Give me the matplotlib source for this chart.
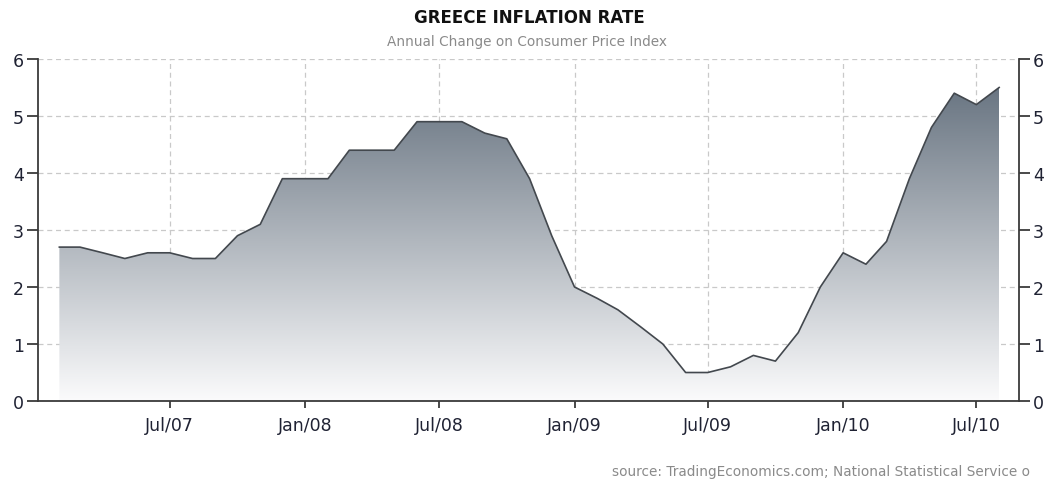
import numpy as np
import pandas as pd
import matplotlib
matplotlib.use('Agg')
import matplotlib.pyplot as plt
from matplotlib.colors import LinearSegmentedColormap

# monthly observations, Feb 2007 .. Aug 2010
months = pd.date_range('2007-02-01', '2010-08-01', freq='MS')
inflation = [2.7, 2.7, 2.6, 2.5, 2.6, 2.6, 2.5, 2.5, 2.9, 3.1, 3.9,
             3.9, 3.9, 4.4, 4.4, 4.4, 4.9, 4.9, 4.9, 4.7, 4.6, 3.9, 2.9,
             2.0, 1.8, 1.6, 1.3, 1.0, 0.5, 0.5, 0.6, 0.8, 0.7, 1.2, 2.0,
             2.6, 2.4, 2.8, 3.9, 4.8, 5.4, 5.2, 5.5]
tick_dates = pd.to_datetime(['2007-07-01', '2008-01-01', '2008-07-01', '2009-01-01',
                             '2009-07-01', '2010-01-01', '2010-07-01'])
tick_labels = ['Jul/07', 'Jan/08', 'Jul/08', 'Jan/09', 'Jul/09', 'Jan/10', 'Jul/10']
y_ticks = [0, 1, 2, 3, 4, 5, 6]

fig = plt.figure(figsize=(10.5, 4.85), dpi=100)
ax = fig.add_axes([0.0362, 0.1711, 0.9343, 0.7052])

x = matplotlib.dates.date2num(months)
y = np.array(inflation)

# gradient fill under the line
cmap = LinearSegmentedColormap.from_list('slate', ['#fbfbfc', '#5c6977'])
grad = np.linspace(0, 1, 256).reshape(-1, 1)
img = ax.imshow(grad, cmap=cmap, aspect='auto', origin='lower',
                extent=[x[0], x[-1], 0, 6], zorder=1)
poly = ax.fill_between(x, y, 0, color='none', zorder=1)
clip = matplotlib.patches.PathPatch(poly.get_paths()[0], transform=ax.transData,
                                    facecolor='none', edgecolor='none')
ax.add_patch(clip)
img.set_clip_path(clip)

ax.plot(x, y, color='#43484e', linewidth=1.2, zorder=3)

ax.set_xlim(x[0] - 29, x[-1] + 27)
ax.set_ylim(0, 6)
ax.set_xticks(matplotlib.dates.date2num(tick_dates))
ax.set_xticklabels(tick_labels)
ax.set_yticks(y_ticks)

ax.grid(True, color='#c9c9c9', linestyle=(0, (4, 3)), linewidth=0.9, zorder=0)
ax.set_axisbelow(True)

ax.spines['top'].set_visible(False)
for side in ['left', 'right', 'bottom']:
    ax.spines[side].set_color('#3a3a3a')
    ax.spines[side].set_linewidth(1.3)

ax.tick_params(axis='y', which='both', left=True, right=True, labelleft=True, labelright=True,
               direction='out', length=8, width=1.3, color='#3a3a3a',
               labelsize=12.5, labelcolor='#1f2233', pad=2)
ax.tick_params(axis='x', direction='out', length=5, width=1.3, color='#3a3a3a',
               labelsize=12.5, labelcolor='#1f2233', pad=6)

fig.text(0.5045, 0.962, 'GREECE INFLATION RATE', ha='center', va='center',
         fontsize=12, fontweight='bold', color='#111111')
fig.text(0.5015, 0.913, 'Annual Change on Consumer Price Index', ha='center', va='center',
         fontsize=9.8, color='#8a8a8a')
fig.text(0.981, 0.027, 'source: TradingEconomics.com; National Statistical Service o',
         ha='right', va='center', fontsize=9.8, color='#8a8a8a')

fig.savefig('out.png', dpi=100)
